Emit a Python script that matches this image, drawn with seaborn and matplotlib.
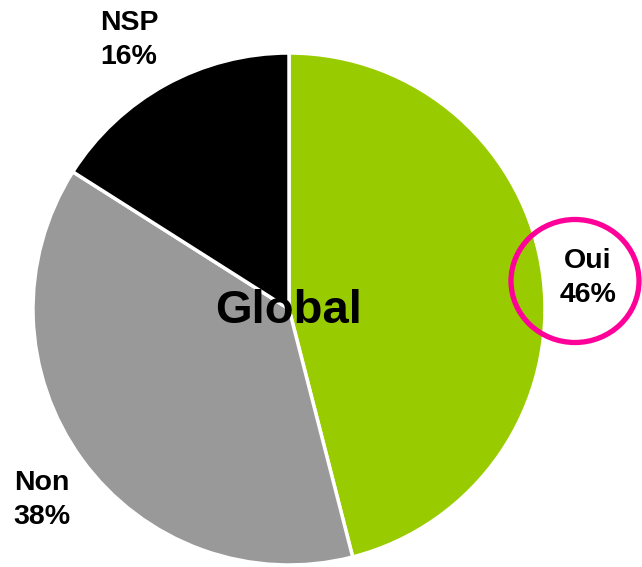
import matplotlib
matplotlib.use("Agg")
import matplotlib.pyplot as plt
import seaborn as sns
from matplotlib.patches import Ellipse

sns.set_theme(style="white")
plt.rcParams['font.family'] = ['Liberation Sans', 'DejaVu Sans']

categories = ["Oui", "Non", "NSP"]
values = [46, 38, 16]
colors = ["#99CC00", "#999999", "#000000"]
title = "Global"

W, H = 642, 567
fig = plt.figure(figsize=(W / 100, H / 100), dpi=100)
ax = fig.add_axes([0, 0, 1, 1])

cx, cy, r = 289, H - 309, 256
ax.pie(values, colors=colors, startangle=90, counterclock=False,
       center=(cx, cy), radius=r, frame=True,
       wedgeprops=dict(edgecolor="white", linewidth=2.5))

label_pos = {"Oui": (588, 278), "Non": (42, 500), "NSP": (129, 40)}
for cat, v in zip(categories, values):
    x, y = label_pos[cat]
    ax.text(x, H - y, f"{cat}\n{v}%", ha="center", va="center",
            fontsize=20.5, fontweight="bold", color="black", linespacing=1.45)

ax.text(cx, H - 311, title, ha="center", va="center", fontsize=34,
        fontweight="bold", color="black")

ax.add_patch(Ellipse((575, H - 281), 128, 123, fill=False,
                     edgecolor="#FF0099", linewidth=3.8))

ax.set_xlim(0, W)
ax.set_ylim(0, H)
ax.set_aspect("equal")
ax.axis("off")
fig.savefig("out.png", dpi=100)
